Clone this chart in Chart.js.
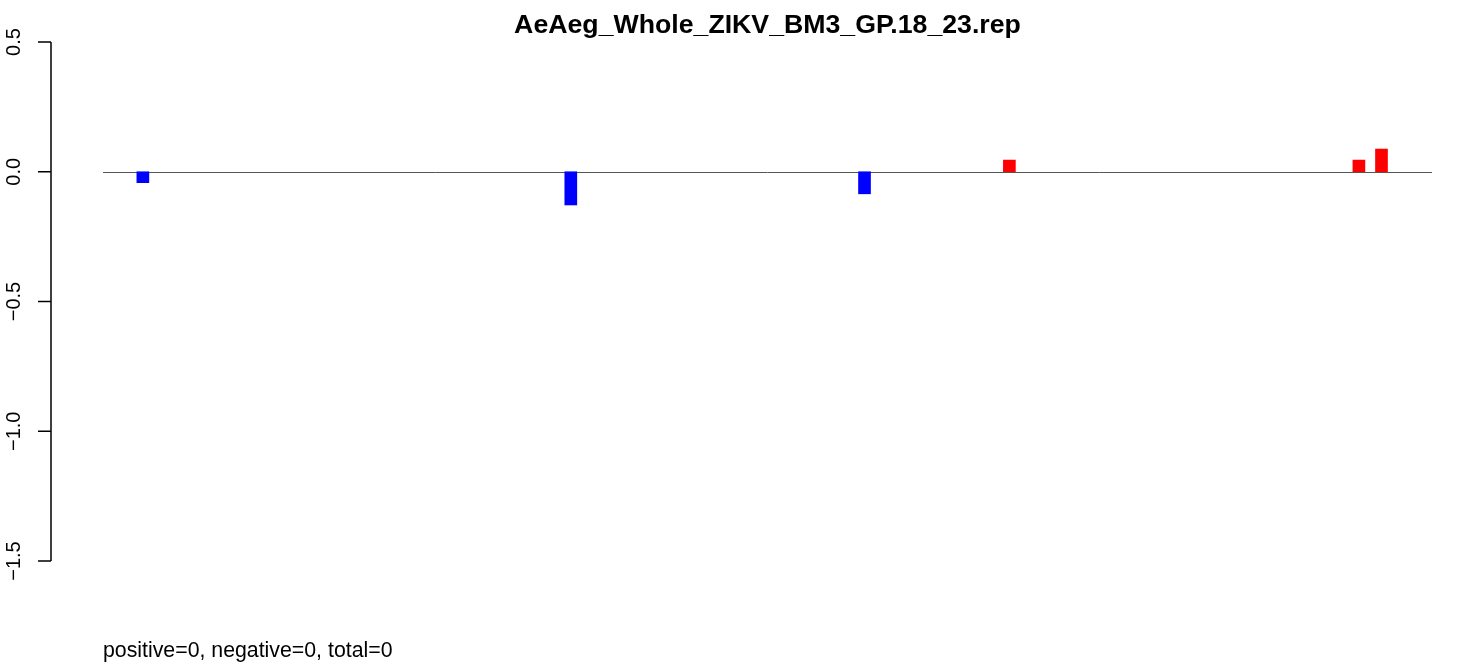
<!DOCTYPE html>
<html>
<head>
<meta charset="utf-8">
<script src="https://cdn.jsdelivr.net/npm/chart.js@4/dist/chart.umd.min.js"></script>
<style>
  body { margin: 0; background: #fff; }
  canvas { display: block; }
</style>
</head>
<body>
<canvas id="mycanvas" width="1470" height="664"></canvas>
<script>
// positions along the track (0..100) and the value of each bar
var positions = [3.0, 35.2, 57.3, 68.2, 94.5, 96.2];
var values = [-0.042, -0.128, -0.085, 0.045, 0.045, 0.0875];
var yTicks = [0.5, 0.0, -0.5, -1.0, -1.5];
var yTickLabels = ["0.5", "0.0", "\u22120.5", "\u22121.0", "\u22121.5"];
var titleText = "AeAeg_Whole_ZIKV_BM3_GP.18_23.rep";
var subText = "positive=0, negative=0, total=0";

var points = [];
var colors = [];
for (var i in values) {
  points.push({x: positions[i], y: values[i]});
  colors.push(values[i] < 0 ? "#0000ff" : "#ff0000");
}

var rAxis = {
  id: "rAxis",
  beforeDatasetsDraw: function(chart) {
    var ctx = chart.ctx;
    var y = chart.scales.y;
    var area = chart.chartArea;
    var zero = Math.round(y.getPixelForValue(0)) + 0.5;
    ctx.save();
    ctx.strokeStyle = "#555555";
    ctx.lineWidth = 1;
    ctx.beginPath();
    ctx.moveTo(area.left, zero);
    ctx.lineTo(area.right, zero);
    ctx.stroke();
    ctx.restore();
  },
  afterDraw: function(chart) {
    var ctx = chart.ctx;
    var y = chart.scales.y;
    var area = chart.chartArea;
    ctx.save();
    ctx.strokeStyle = "#000";
    ctx.lineWidth = 1.5;
    var ax = 51;
    ctx.beginPath();
    ctx.moveTo(ax, y.getPixelForValue(yTicks[0]));
    ctx.lineTo(ax, y.getPixelForValue(yTicks[yTicks.length - 1]));
    for (var i in yTicks) {
      var py = y.getPixelForValue(yTicks[i]);
      ctx.moveTo(38, py);
      ctx.lineTo(ax, py);
    }
    ctx.stroke();

    ctx.fillStyle = "#000";
    ctx.font = "20px 'Liberation Sans', Arial, sans-serif";
    ctx.textAlign = "center";
    ctx.textBaseline = "alphabetic";
    for (var i in yTicks) {
      var py = y.getPixelForValue(yTicks[i]);
      ctx.save();
      ctx.translate(20, py);
      ctx.rotate(-Math.PI / 2);
      ctx.fillText(yTickLabels[i], 0, 0);
      ctx.restore();
    }

    ctx.font = "bold 26.7px 'Liberation Sans', Arial, sans-serif";
    ctx.textAlign = "center";
    ctx.textBaseline = "middle";
    ctx.fillText(titleText, (area.left + area.right) / 2, 26);

    ctx.font = "21.3px 'Liberation Sans', Arial, sans-serif";
    ctx.textAlign = "left";
    ctx.textBaseline = "alphabetic";
    ctx.fillText(subText, area.left, 657);
    ctx.restore();
  }
};

var ctx = document.getElementById("mycanvas");
var chart = new Chart(ctx, {
  type: "bar",
  data: {
    datasets: [{
      data: points,
      backgroundColor: colors,
      borderWidth: 0,
      barThickness: 12
    }]
  },
  options: {
    responsive: false,
    animation: false,
    layout: { padding: { left: 103, right: 38, top: 42, bottom: 103 } },
    plugins: { legend: { display: false }, tooltip: { enabled: false } },
    scales: {
      x: { type: "linear", min: 0, max: 100, offset: false, display: false },
      y: { min: -1.5, max: 0.5, display: false }
    }
  },
  plugins: [rAxis]
});
</script>
</body>
</html>
